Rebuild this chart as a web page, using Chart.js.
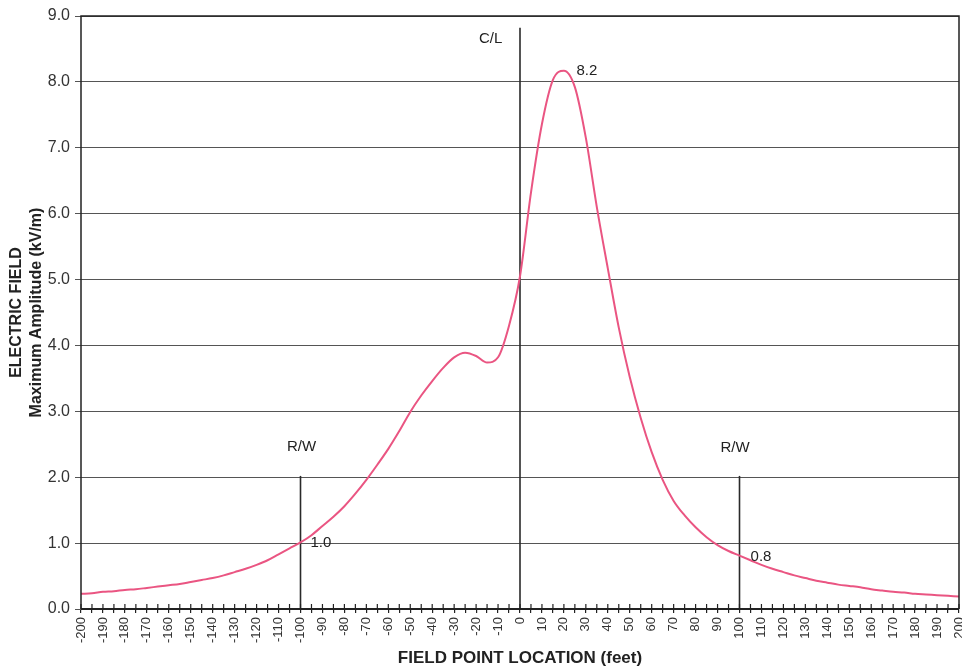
<!DOCTYPE html>
<html>
<head>
<meta charset="utf-8">
<script src="https://cdn.jsdelivr.net/npm/chart.js@4/dist/chart.umd.min.js"></script>
<style>
  html, body { margin: 0; padding: 0; background: #ffffff; }
  #wrap { width: 962px; height: 671px; position: relative; }
</style>
</head>
<body>
<div id="wrap"><canvas id="c" width="962" height="671"></canvas></div>
<script>
// ---- Data ----
const fieldPointFeet = [
  -200,-195,-190,-185,-180,-175,-170,-165,-160,-155,-150,-145,-140,-135,-130,-125,-120,-115,-110,-105,
  -100,-95,-90,-85,-80,-75,-70,-65,-60,-55,-50,-45,-40,-35,-30,-25,-20,-15,-10,-5,
  0,5,10,15,20,25,30,35,40,45,50,55,60,65,70,75,80,85,90,95,
  100,105,110,115,120,125,130,135,140,145,150,155,160,165,170,175,180,185,190,195,200
];
const electricFieldKV = [
  0.23,0.24,0.26,0.27,0.29,0.30,0.32,0.34,0.36,0.38,0.41,0.44,0.47,0.51,0.56,0.61,0.67,0.74,0.83,0.92,
  1.01,1.12,1.26,1.40,1.56,1.75,1.96,2.19,2.43,2.70,2.99,3.24,3.46,3.66,3.82,3.89,3.84,3.74,3.82,4.30,
  5.05,6.32,7.36,8.03,8.17,7.92,7.15,6.10,5.17,4.27,3.52,2.90,2.38,1.96,1.64,1.42,1.24,1.09,0.97,0.88,
  0.81,0.74,0.67,0.61,0.56,0.51,0.47,0.43,0.40,0.37,0.35,0.33,0.30,0.28,0.26,0.25,0.23,0.22,0.21,0.20,0.19
];
// marker lines (right-of-way and centre line)
const markerLineX   = [-100, 0, 100];
const markerLineTop = [2.02, 8.82, 2.02];
// annotation texts and their data anchors
const annotTexts = ['C/L', 'R/W', 'R/W', '8.2', '1.0', '0.8'];
const annotX     = [-13.4, -99.5, 98, 30.5, -90.7, 109.8];
const annotY     = [8.66, 2.46, 2.44, 8.16, 1.0, 0.79];
// axes
const xMin = -200, xMax = 200, xStep = 5, xLabelEvery = 10;
const yMin = 0, yMax = 9, yStep = 1;
const xTitle = 'FIELD POINT LOCATION (feet)';
const yTitle = ['ELECTRIC FIELD', 'Maximum Amplitude (kV/m)'];

const FONT = "'Liberation Sans', Arial, sans-serif";

const curve = fieldPointFeet.map((x, i) => ({ x: x, y: electricFieldKV[i] }));
const markerSets = markerLineX.map((x, i) => ({
  data: [{ x: x, y: 0 }, { x: x, y: markerLineTop[i] }],
  borderColor: '#2a2a2a', borderWidth: 1.6, pointRadius: 0, showLine: true, tension: 0, order: 2
}));

const frameAndTicks = {
  id: 'frameAndTicks',
  afterDatasetsDraw(chart) {
    const { ctx, chartArea: a, scales } = chart;
    ctx.save();
    ctx.strokeStyle = '#222';
    ctx.lineWidth = 1.5;
    ctx.beginPath();
    ctx.moveTo(a.left, a.bottom); ctx.lineTo(a.left, a.top); ctx.lineTo(a.right, a.top); ctx.lineTo(a.right, a.bottom);
    ctx.stroke();
    ctx.lineWidth = 2.2;
    ctx.beginPath(); ctx.moveTo(a.left, a.bottom); ctx.lineTo(a.right, a.bottom); ctx.stroke();
    ctx.lineWidth = 1.2;
    const xs = scales.x;
    xs.ticks.forEach(t => {
      const px = xs.getPixelForValue(t.value);
      ctx.beginPath(); ctx.moveTo(px, a.bottom - 5); ctx.lineTo(px, a.bottom); ctx.stroke();
    });
    ctx.fillStyle = '#222';
    ctx.font = '15px ' + FONT;
    ctx.textAlign = 'center';
    ctx.textBaseline = 'middle';
    annotTexts.forEach((txt, i) => {
      ctx.fillText(txt, xs.getPixelForValue(annotX[i]), scales.y.getPixelForValue(annotY[i]));
    });
    ctx.restore();
  }
};

new Chart(document.getElementById('c'), {
  type: 'scatter',
  data: {
    datasets: [
      { data: curve, borderColor: '#ea5582', borderWidth: 2, pointRadius: 0, showLine: true,
        cubicInterpolationMode: 'monotone', order: 1 },
      ...markerSets
    ]
  },
  options: {
    responsive: false,
    animation: false,
    layout: { padding: { top: 16, right: 3, left: 0, bottom: 0 } },
    plugins: { legend: { display: false }, tooltip: { enabled: false } },
    scales: {
      x: {
        type: 'linear', min: xMin, max: xMax,
        afterBuildTicks(scale) {
          const arr = [];
          for (let v = xMin; v <= xMax; v += xStep) arr.push({ value: v });
          scale.ticks = arr;
        },
        afterFit(scale) { scale.height = 62; scale.paddingRight = 0; scale.paddingLeft = 0; },
        grid: { drawOnChartArea: false, drawTicks: true, tickLength: 4, color: '#222', lineWidth: 1.2 },
        border: { display: false },
        ticks: {
          autoSkip: false, minRotation: 90, maxRotation: 90, padding: 4,
          color: '#333', font: { family: FONT, size: 13 },
          callback: v => (v % xLabelEvery === 0 ? String(v) : '')
        },
        title: { display: true, text: xTitle, color: '#222', padding: { top: 0, bottom: 2 },
                 font: { family: FONT, size: 17, weight: 'bold', lineHeight: 1.2 } }
      },
      y: {
        type: 'linear', min: yMin, max: yMax,
        afterFit(scale) { scale.width = 81; scale.paddingTop = 0; scale.paddingBottom = 0; },
        grid: { color: '#555', lineWidth: 1, drawTicks: true, tickLength: 6 },
        border: { display: false },
        ticks: {
          stepSize: yStep, padding: 5, color: '#333', font: { family: FONT, size: 16 },
          callback: v => v.toFixed(1)
        },
        title: { display: true, text: yTitle, color: '#222', padding: { top: 7, bottom: 0 },
                 font: { family: FONT, size: 16, weight: 'bold', lineHeight: 1.25 } }
      }
    }
  },
  plugins: [frameAndTicks]
});
</script>
</body>
</html>
